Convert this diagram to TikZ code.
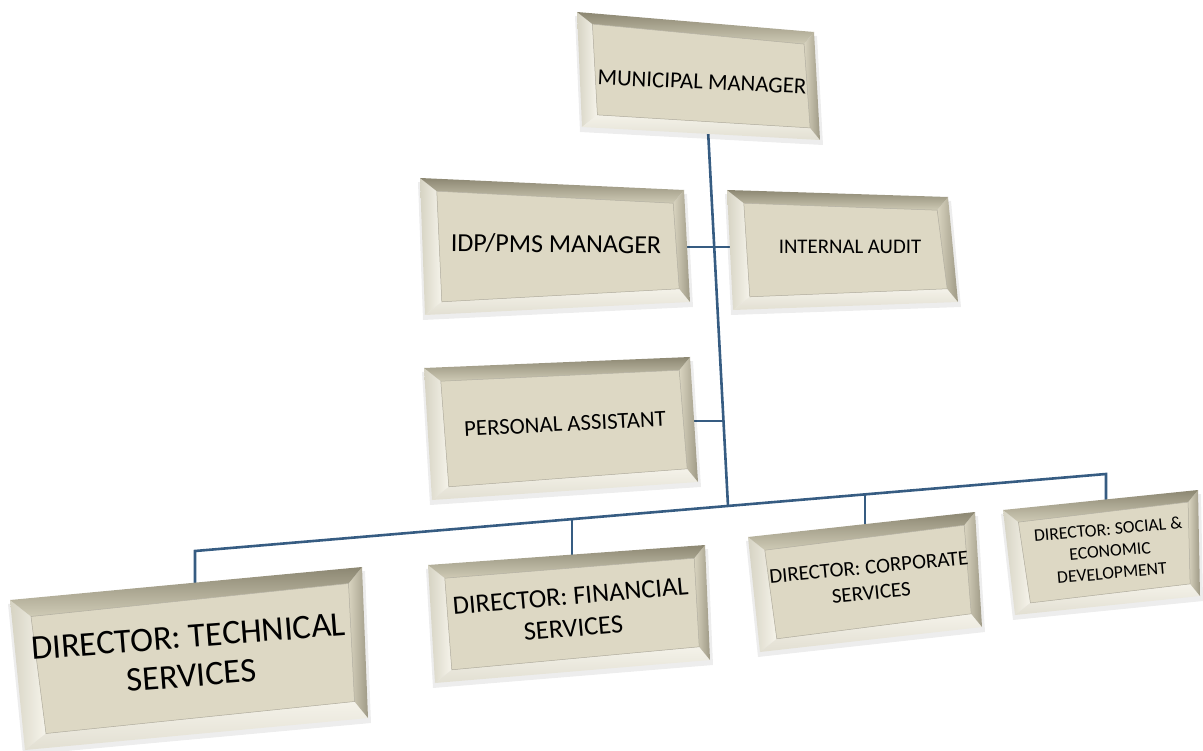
\documentclass[tikz,border=0pt]{standalone}
\usepackage{fontspec}
\setmainfont{Carlito}
\usetikzlibrary{calc, positioning}
\definecolor{facetan}{HTML}{DDD8C4}
\definecolor{bevtop}{HTML}{8C8772}
\definecolor{bevtoplt}{HTML}{CFCBB6}
\definecolor{bevright}{HTML}{9E9985}
\definecolor{bevrightlt}{HTML}{D9D4C0}
\definecolor{bevleft}{HTML}{D6D3C3}
\definecolor{bevleftlt}{HTML}{F6F4EB}
\definecolor{bevbot}{HTML}{F4F2E9}
\definecolor{bevbotdk}{HTML}{E2DFD2}
\definecolor{linkblue}{HTML}{365C82}
\tikzset{
	boxtext/.style={align=center, text=black, inner sep=0pt},
	orgline/.style={draw=linkblue, line width=2.6pt}
}
% #1 name, #2..#5 corners TL TR BR BL, #6 bevel size
\newcommand\bevelbox[6]{%
	\coordinate (#1-A) at #2;
	\coordinate (#1-B) at #3;
	\coordinate (#1-C) at #4;
	\coordinate (#1-D) at #5;
	\coordinate (#1-a) at ($(#1-A)+(1.4*#6,1.1*#6)$);
	\coordinate (#1-b) at ($(#1-B)+(-0.9*#6,1.1*#6)$);
	\coordinate (#1-c) at ($(#1-C)+(-0.9*#6,-1.1*#6)$);
	\coordinate (#1-d) at ($(#1-D)+(1.4*#6,-1.1*#6)$);
	\fill[black, opacity=0.07] ($(#1-A)+(-2,4)$) -- ($(#1-B)+(3,4)$) -- ($(#1-C)+(3,5)$) -- ($(#1-D)+(-2,5)$) -- cycle;
	\shade[left color=bevleft, right color=bevleftlt] (#1-A) -- (#1-a) -- (#1-d) -- (#1-D) -- cycle;
	\shade[top color=bevbot, bottom color=bevbotdk] (#1-D) -- (#1-d) -- (#1-c) -- (#1-C) -- cycle;
	\shade[left color=bevrightlt, right color=bevright] (#1-B) -- (#1-C) -- (#1-c) -- (#1-b) -- cycle;
	\shade[top color=bevtop, bottom color=bevtoplt] (#1-A) -- (#1-B) -- (#1-b) -- (#1-a) -- cycle;
	\fill[facetan, draw=bevtop!70, line width=0.5pt] (#1-a) -- (#1-b) -- (#1-c) -- (#1-d) -- cycle;
}

\begin{document}
\begin{tikzpicture}[x=1pt, y=-1pt]
	\useasboundingbox (0,0) rectangle (1203,751);

	% connector points
	\coordinate (trunk-top) at (708,130);
	\coordinate (trunk-bot) at (728,506);
	\coordinate (trunk-pa) at (723,421);
	\coordinate (idp-e) at (680,247);
	\coordinate (ia-w) at (740,247);
	\coordinate (pa-e) at (692,421);
	\coordinate (bus-l) at (195,551);
	\coordinate (bus-r) at (1106,474);
	\coordinate (bus-fs) at (572,519);
	\coordinate (bus-cs) at (865,494);
	\coordinate (dts-n) at (195,592);
	\coordinate (dfs-n) at (572,562);
	\coordinate (dcs-n) at (865,530);
	\coordinate (dsed-n) at (1106,505);

	\begin{scope}
		\draw[orgline] (trunk-top) -- (trunk-bot);
		\draw[orgline] (idp-e) -- (ia-w);
		\draw[orgline] (pa-e) -- (trunk-pa);
		\draw[orgline] (dts-n) -- (bus-l) -- (bus-r) -- (dsed-n);
		\draw[orgline] (bus-fs) -- (dfs-n);
		\draw[orgline] (bus-cs) -- (dcs-n);
	\end{scope}

	\begin{scope}
		\bevelbox{mmbox}{(577,12)}{(814,32)}{(820,140)}{(582,127)}{11}
		\bevelbox{idpbox}{(420,178)}{(684,190)}{(690,302)}{(425,315)}{12}
		\bevelbox{iabox}{(727,190)}{(948,197)}{(958,302)}{(733,310)}{12}
		\bevelbox{pabox}{(424,368)}{(690,357)}{(698,482)}{(432,500)}{12}
		\bevelbox{dtsbox}{(10,600)}{(362,567)}{(368,718)}{(25,750)}{15}
		\bevelbox{dfsbox}{(428,565)}{(705,545)}{(710,660)}{(435,683)}{12}
		\bevelbox{dcsbox}{(748,537)}{(975,512)}{(982,627)}{(760,652)}{12}
		\bevelbox{dsedbox}{(1003,510)}{(1198,490)}{(1200,596)}{(1015,615)}{11}
	\end{scope}

	\node[boxtext, rotate=-2.5, font=\fontsize{22.8}{25}\selectfont] (mm) at (702,82) {MUNICIPAL MANAGER};
	\node[boxtext, rotate=-0.5, font=\fontsize{26}{28}\selectfont] (idp) at (556,244) {IDP/PMS MANAGER};
	\node[boxtext, rotate=0, font=\fontsize{20.8}{23}\selectfont] (ia) at (850,247) {INTERNAL AUDIT};
	\node[boxtext, rotate=3, font=\fontsize{22.8}{25}\selectfont] (pa) at (565,424) {PERSONAL ASSISTANT};
	\node[boxtext, rotate=4.5, font=\fontsize{34.5}{39}\selectfont] (dts) at (190,656) {DIRECTOR: TECHNICAL\\SERVICES};
	\node[boxtext, rotate=5, font=\fontsize{26.4}{32}\selectfont] (dfs) at (572,612) {DIRECTOR: FINANCIAL\\SERVICES};
	\node[boxtext, rotate=5.5, font=\fontsize{21}{26}\selectfont] (dcs) at (870,580) {DIRECTOR: CORPORATE\\SERVICES};
	\node[boxtext, rotate=5, font=\fontsize{17.7}{22}\selectfont] (dsed) at (1110,551) {DIRECTOR: SOCIAL \&\\ECONOMIC\\DEVELOPMENT};

\end{tikzpicture}
\end{document}
